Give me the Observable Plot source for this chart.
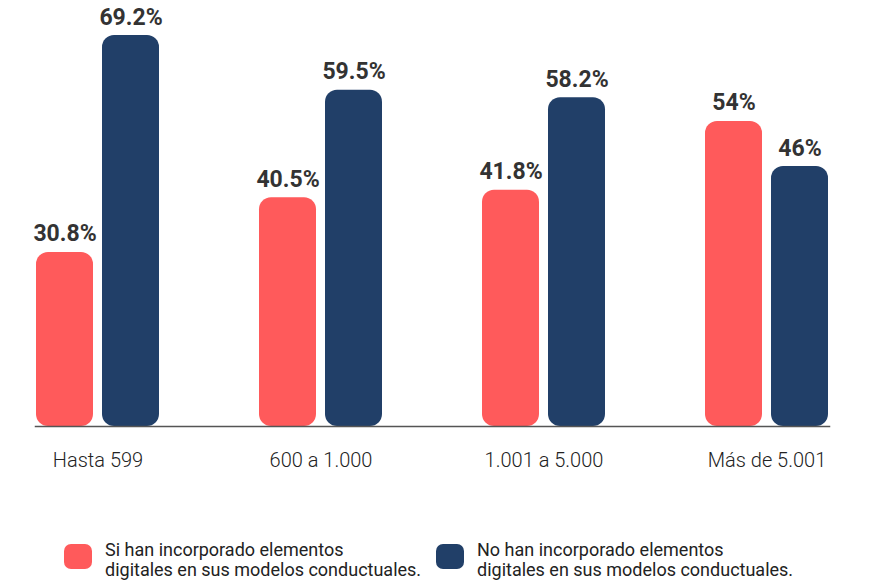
<!DOCTYPE html>
<html><head><meta charset="utf-8">
<script src="https://cdn.jsdelivr.net/npm/d3@7"></script>
<script src="https://cdn.jsdelivr.net/npm/@observablehq/plot@0.6"></script>
<style>
html,body{margin:0;padding:0;background:#fff;}
body{width:870px;height:585px;overflow:hidden;font-family:Roboto,"DejaVu Sans",sans-serif;}
#legend{display:flex;align-items:flex-start;margin-top:40px;padding-left:64px;}
.item{display:flex;align-items:flex-start;}
.sw{width:28px;height:25px;border-radius:7px;margin-top:4px;margin-right:13px;flex:none;}
.lab{font-size:18px;line-height:20px;color:#222;}
</style>
</head><body>
<div id="chart"></div>
<div id="legend"></div>
<script>
const groups = ["Hasta 599", "600 a 1.000", "1.001 a 5.000", "Más de 5.001"];
const seriesNames = [
  "Si han incorporado elementos digitales en sus modelos conductuales.",
  "No han incorporado elementos digitales en sus modelos conductuales."
];
const seriesLines = [
  ["Si han incorporado elementos", "digitales en sus modelos conductuales."],
  ["No han incorporado elementos", "digitales en sus modelos conductuales."]
];
const siValues = [30.8, 40.5, 41.8, 54];
const noValues = [69.2, 59.5, 58.2, 46];
const colors = ["#FF5A5B", "#213F68"];

const data = [];
groups.forEach((g, i) => {
  data.push({group: g, series: seriesNames[0], value: siValues[i]});
  data.push({group: g, series: seriesNames[1], value: noValues[i]});
});

const chart = Plot.plot({
  width: 870,
  height: 500,
  marginLeft: 0,
  marginRight: 5,
  marginTop: 0,
  marginBottom: 74,
  style: {fontFamily: "Roboto, sans-serif", background: "#fff"},
  fx: {domain: groups, paddingInner: 0.439, paddingOuter: 0.158, label: null, axis: null},
  x: {domain: seriesNames, paddingInner: 0.134, paddingOuter: 0, axis: null},
  y: {domain: [0, 75.4], axis: null},
  color: {domain: seriesNames, range: colors},
  marks: [
    Plot.barY(data, {fx: "group", x: "series", y: "value", fill: "series", rx: 12}),
    Plot.text(data, {fx: "group", x: "series", y: "value", text: d => `${d.value}%`,
      lineAnchor: "bottom", dy: -11, fontSize: 23, fontWeight: "bold", fill: "#333"}),
    Plot.frame({anchor: "bottom", facet: "super", stroke: "#555", strokeWidth: 1.5}),
    Plot.axisFx({anchor: "bottom", tickSize: 0, tickPadding: 26, fontSize: 20, fontWeight: 300, fill: "#222", label: null})
  ]
});
document.getElementById("chart").appendChild(chart);

const legend = document.getElementById("legend");
seriesNames.forEach((s, i) => {
  const it = document.createElement("div");
  it.className = "item";
  if (i === 0) it.style.width = "372px";
  const sw = document.createElement("div");
  sw.className = "sw";
  sw.style.background = colors[i];
  const lab = document.createElement("div");
  lab.className = "lab";
  lab.innerHTML = seriesLines[i].join("<br>");
  it.appendChild(sw); it.appendChild(lab);
  legend.appendChild(it);
});
</script>
</body></html>
